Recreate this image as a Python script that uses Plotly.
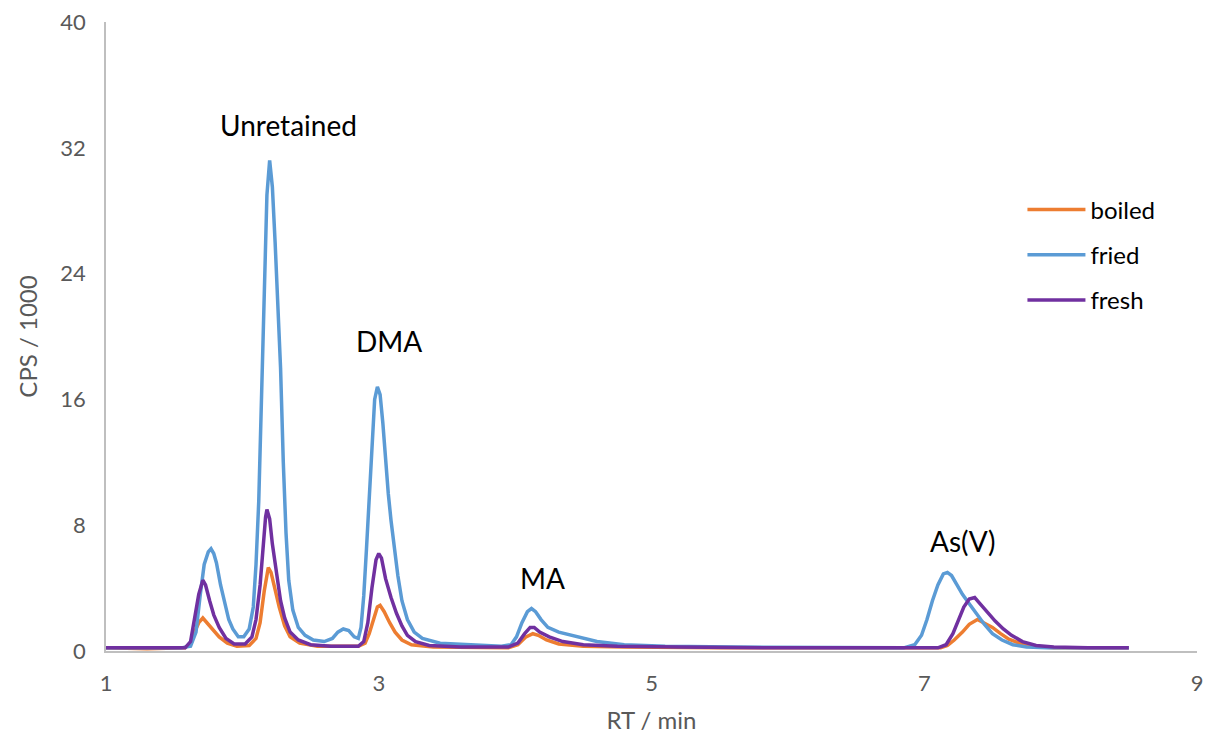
import plotly.graph_objects as go

# ---- data (RT in min, CPS/1000) ----
boiled_x = [1.00, 1.30, 1.58, 1.62, 1.65, 1.68, 1.71, 1.74, 1.78, 1.83, 1.89, 1.96, 2.05, 2.10, 2.13, 2.16,
            2.19, 2.21, 2.24, 2.27, 2.31, 2.35, 2.42, 2.55, 2.85, 2.90, 2.93, 2.96, 2.99, 3.01, 3.04, 3.08,
            3.12, 3.17, 3.24, 3.40, 3.95, 4.02, 4.08, 4.13, 4.17, 4.23, 4.32, 4.50, 4.80, 5.50, 7.12, 7.17,
            7.22, 7.28, 7.33, 7.39, 7.44, 7.50, 7.56, 7.62, 7.70, 7.80, 7.95, 8.50]
boiled_y = [0.2, 0.15, 0.2, 0.5, 1.2, 1.8, 2.1, 1.8, 1.4, 0.9, 0.5, 0.3, 0.35, 0.8, 1.8, 3.8,
            5.3, 5.0, 3.9, 2.8, 1.6, 0.9, 0.5, 0.3, 0.3, 0.5, 1.1, 2.0, 2.8, 2.9, 2.5, 1.8,
            1.2, 0.7, 0.4, 0.25, 0.2, 0.4, 0.9, 1.1, 1.0, 0.7, 0.45, 0.3, 0.25, 0.2, 0.2, 0.35,
            0.7, 1.2, 1.7, 2.0, 1.8, 1.5, 1.1, 0.75, 0.5, 0.3, 0.2, 0.2]

fried_x = [1.00, 1.30, 1.55, 1.62, 1.66, 1.69, 1.72, 1.75, 1.77, 1.79, 1.81, 1.84, 1.87, 1.90, 1.93, 1.97,
           2.01, 2.05, 2.08, 2.10, 2.12, 2.14, 2.16, 2.18, 2.20, 2.22, 2.24, 2.26, 2.28, 2.30, 2.32, 2.34,
           2.37, 2.41, 2.46, 2.52, 2.60, 2.66, 2.70, 2.74, 2.78, 2.82, 2.85, 2.87, 2.89, 2.91, 2.93, 2.95,
           2.97, 2.99, 3.01, 3.03, 3.05, 3.07, 3.09, 3.11, 3.14, 3.17, 3.21, 3.26, 3.32, 3.45, 3.65, 3.90,
           3.97, 4.01, 4.05, 4.09, 4.12, 4.15, 4.19, 4.24, 4.32, 4.45, 4.60, 4.80, 5.10, 5.60, 6.20, 6.85,
           6.93, 6.98, 7.02, 7.06, 7.10, 7.14, 7.17, 7.20, 7.24, 7.28, 7.33, 7.38, 7.44, 7.50, 7.57, 7.65,
           7.75, 7.90, 8.20, 8.50]
fried_y = [0.2, 0.2, 0.2, 0.3, 1.2, 3.5, 5.5, 6.3, 6.5, 6.2, 5.6, 4.2, 3.0, 2.0, 1.4, 0.9,
           0.9, 1.4, 2.8, 5.5, 9.5, 16, 23, 29, 31.2, 29.5, 26, 22.5, 18, 12, 7.5, 4.5,
           2.6, 1.5, 1.0, 0.7, 0.6, 0.8, 1.2, 1.4, 1.3, 0.9, 0.8, 1.5, 3.5, 6.5, 10, 13.5,
           16, 16.8, 16.3, 14.5, 12, 10, 8.3, 6.8, 4.8, 3.2, 2.0, 1.2, 0.8, 0.5, 0.4, 0.3,
           0.4, 0.9, 1.8, 2.5, 2.7, 2.5, 2.0, 1.5, 1.2, 0.9, 0.6, 0.4, 0.3, 0.25, 0.2, 0.2,
           0.4, 1.0, 2.0, 3.2, 4.2, 4.9, 5.0, 4.8, 4.2, 3.6, 3.0, 2.4, 1.7, 1.1, 0.7, 0.4,
           0.25, 0.2, 0.2, 0.2]

fresh_x = [1.00, 1.30, 1.58, 1.62, 1.65, 1.68, 1.71, 1.73, 1.76, 1.79, 1.83, 1.88, 1.94, 2.02, 2.07, 2.10,
           2.13, 2.15, 2.17, 2.18, 2.20, 2.22, 2.25, 2.28, 2.31, 2.35, 2.41, 2.50, 2.65, 2.85, 2.89, 2.92,
           2.95, 2.98, 3.00, 3.02, 3.05, 3.09, 3.13, 3.17, 3.21, 3.27, 3.37, 3.60, 3.95, 4.02, 4.07, 4.11,
           4.14, 4.18, 4.25, 4.35, 4.50, 4.75, 5.20, 6.00, 7.10, 7.16, 7.21, 7.25, 7.29, 7.33, 7.37, 7.41,
           7.46, 7.52, 7.58, 7.64, 7.72, 7.82, 7.95, 8.20, 8.50]
fresh_y = [0.2, 0.2, 0.2, 0.6, 2.0, 3.6, 4.5, 4.2, 3.2, 2.3, 1.5, 0.8, 0.45, 0.45, 0.9, 2.0,
           4.2, 6.5, 8.5, 9.0, 8.4, 6.8, 4.8, 3.2, 2.1, 1.2, 0.7, 0.4, 0.3, 0.3, 0.6, 1.8,
           4.0, 5.8, 6.2, 5.9, 4.6, 3.4, 2.4, 1.6, 1.0, 0.6, 0.35, 0.25, 0.25, 0.5, 1.1, 1.5,
           1.5, 1.2, 0.9, 0.6, 0.4, 0.3, 0.25, 0.2, 0.2, 0.4, 1.1, 2.0, 2.8, 3.3, 3.4, 3.0,
           2.5, 1.9, 1.4, 1.0, 0.6, 0.35, 0.25, 0.2, 0.2]

series_names = ["boiled", "fried", "fresh"]
series_colors = ["#ED7D31", "#5B9BD5", "#7030A0"]

peak_labels = ["Unretained", "DMA", "MA", "As(V)"]
peak_label_x = [2.335, 3.075, 4.204, 7.277]
peak_label_y = [33.45, 19.7, 4.64, 7.0]

x_ticks = [1, 3, 5, 7, 9]
y_ticks = [0, 8, 16, 24, 32, 40]

FONT = "Lato, Carlito, Calibri, sans-serif"
GREY = "#595959"

fig = go.Figure()
for name, color, xs, ys in zip(series_names, series_colors,
                               [boiled_x, fried_x, fresh_x], [boiled_y, fried_y, fresh_y]):
    fig.add_trace(go.Scatter(x=xs, y=ys, mode="lines", name=name, legendgroup=name,
                             line=dict(color=color, width=3.5)))

for t, ax, ay in zip(peak_labels, peak_label_x, peak_label_y):
    fig.add_annotation(x=ax, y=ay, text=t, showarrow=False, xref="x", yref="y",
                       font=dict(family=FONT, size=28, color="#000000"))

fig.update_layout(
    width=1207, height=734,
    margin=dict(l=106, r=10, t=22, b=83, autoexpand=False),
    paper_bgcolor="white", plot_bgcolor="white",
    font=dict(family=FONT, color=GREY),
    legend=dict(x=0.84, y=0.737, xanchor="left", yanchor="top",
                font=dict(family=FONT, size=24, color="#000000"),
                tracegroupgap=11, itemwidth=58, bgcolor="rgba(0,0,0,0)"),
    xaxis=dict(range=[1, 9], tickvals=x_ticks, showgrid=False, zeroline=False,
               showline=True, linecolor="#BFBFBF", linewidth=1.5, ticks="",
               ticklabelstandoff=12, ticklabeloverflow="allow",
               tickfont=dict(family=FONT, size=22, color=GREY),
               title=dict(text="RT / min", font=dict(family=FONT, size=24, color=GREY), standoff=18)),
    yaxis=dict(range=[0, 40], tickvals=y_ticks, showgrid=False, zeroline=False,
               showline=True, linecolor="#BFBFBF", linewidth=1.5, ticks="",
               ticklabelstandoff=14, ticklabeloverflow="allow",
               tickfont=dict(family=FONT, size=22, color=GREY),
               title=dict(text="CPS / 1000", font=dict(family=FONT, size=24, color=GREY), standoff=16)),
)

# remove the browser's default 8px page margin so the figure fills the window exactly
fig.write_html("out.html",
               config={"displayModeBar": False},
               post_script="document.body.style.margin='0';document.body.style.overflow='hidden';")
